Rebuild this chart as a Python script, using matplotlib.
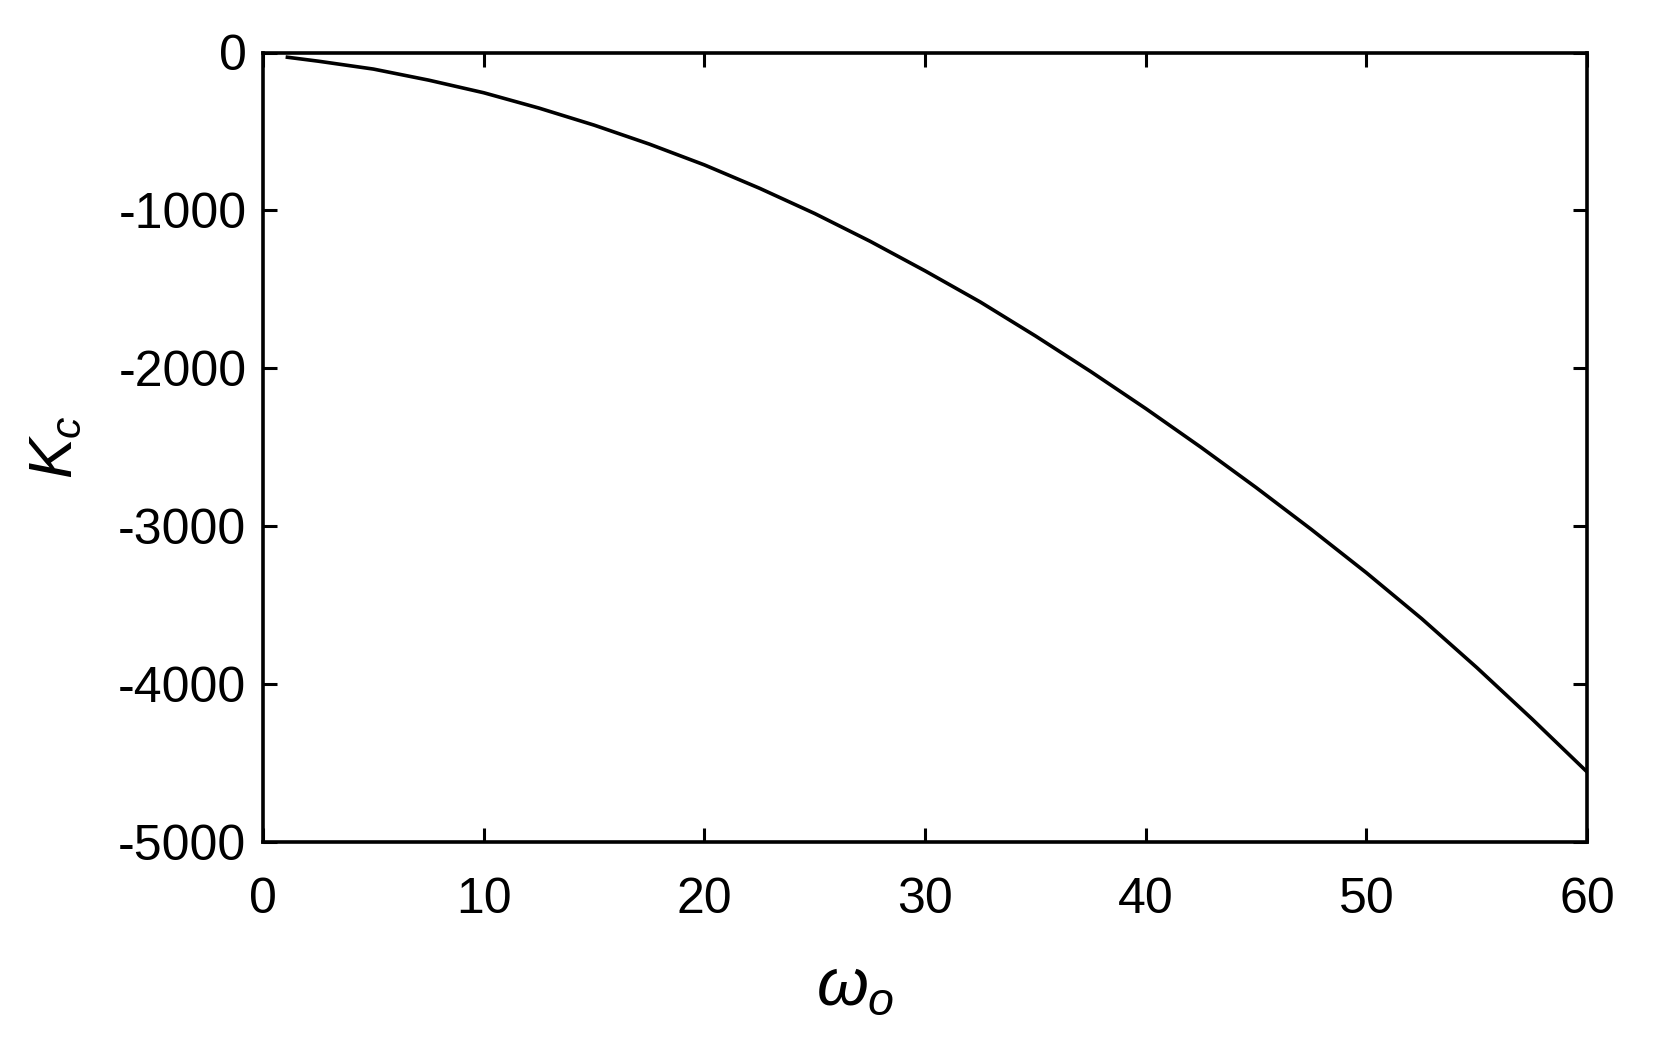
import numpy as np
import matplotlib
matplotlib.use("Agg")
import matplotlib.pyplot as plt

# omega_o vs K_c
omega_o = [1.1, 2.5, 5, 7.5, 10, 12.5, 15, 17.5, 20, 22.5, 25, 27.5, 30,
           32.5, 35, 37.5, 40, 42.5, 45, 47.5, 50, 52.5, 55, 57.5, 60]
K_c = [-30, -55, -105, -175, -255, -352, -460, -580, -712, -860, -1020, -1195, -1383,
       -1580, -1795, -2020, -2255, -2500, -2755, -3020, -3295, -3585, -3895, -4220, -4556]

x_ticks = [0, 10, 20, 30, 40, 50, 60]
y_ticks = [0, -1000, -2000, -3000, -4000, -5000]

plt.rcParams['font.family'] = ['Liberation Sans', 'DejaVu Sans']
plt.rcParams['mathtext.fontset'] = 'custom'
plt.rcParams['mathtext.rm'] = 'Liberation Sans'
plt.rcParams['mathtext.it'] = 'Liberation Sans:italic'
plt.rcParams['axes.unicode_minus'] = False  # plain hyphen like the reference

fig = plt.figure(figsize=(16.55, 10.5), dpi=100)
ax = fig.add_axes([0.159, 0.198, 0.8, 0.752])

ax.plot(omega_o, K_c, color='black', linewidth=2.6)

ax.set_xlim(0, 60)
ax.set_ylim(-5000, 0)
ax.set_xticks(x_ticks)
ax.set_yticks(y_ticks)

for s in ax.spines.values():
    s.set_linewidth(2.6)

ax.tick_params(axis='both', direction='in', length=10, width=2.2,
               top=True, right=True, labelsize=36)
ax.tick_params(axis='x', pad=25)
ax.tick_params(axis='y', pad=12)

ax.set_xlabel(r'$\omega_o$', fontsize=48)
ax.xaxis.set_label_coords(0.447, -0.145)
ax.set_ylabel(r'$K_c$', fontsize=44, labelpad=24)

fig.savefig('out.png', dpi=100, facecolor='white')
